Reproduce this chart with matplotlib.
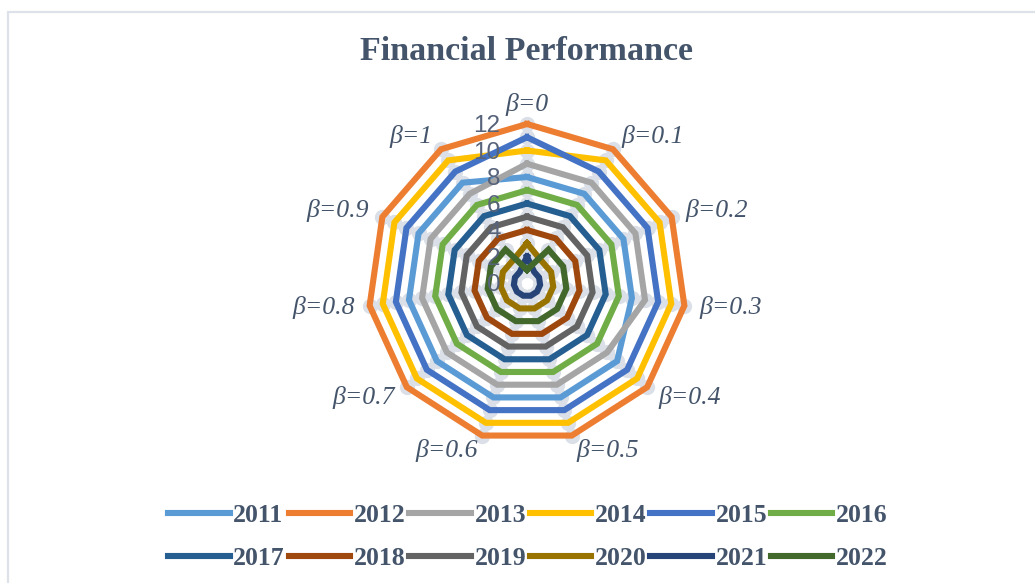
import numpy as np
import matplotlib
matplotlib.use("Agg")
import matplotlib.pyplot as plt
from matplotlib.patches import Rectangle

# categories and series (ranks)
categories = ["β=0", "β=0.1", "β=0.2", "β=0.3", "β=0.4", "β=0.5",
              "β=0.6", "β=0.7", "β=0.8", "β=0.9", "β=1"]
years = ["2011", "2012", "2013", "2014", "2015", "2016",
         "2017", "2018", "2019", "2020", "2021", "2022"]
v2011 = [8, 8, 8, 8, 9, 9, 9, 9, 9, 9, 9]
v2012 = [12, 12, 12, 12, 12, 12, 12, 12, 12, 12, 12]
v2013 = [9, 9, 9, 9, 8, 8, 8, 8, 8, 8, 8]
v2014 = [10, 11, 11, 11, 11, 11, 11, 11, 11, 11, 11]
v2015 = [11, 10, 10, 10, 10, 10, 10, 10, 10, 10, 10]
v2016 = [7, 7, 7, 7, 7, 7, 7, 7, 7, 7, 7]
v2017 = [6, 6, 6, 6, 6, 6, 6, 6, 6, 6, 6]
v2018 = [4, 4, 4, 4, 4, 4, 4, 4, 4, 4, 4]
v2019 = [5, 5, 5, 5, 5, 5, 5, 5, 5, 5, 5]
v2020 = [3, 2, 2, 2, 2, 2, 2, 2, 2, 2, 2]
v2021 = [2, 1, 1, 1, 1, 1, 1, 1, 1, 1, 1]
v2022 = [1, 3, 3, 3, 3, 3, 3, 3, 3, 3, 3]
tick_vals = [0, 2, 4, 6, 8, 10, 12]

series = [v2011, v2012, v2013, v2014, v2015, v2016,
          v2017, v2018, v2019, v2020, v2021, v2022]
colors = ["#5B9BD5", "#ED7D31", "#A5A5A5", "#FFC000", "#4472C4", "#70AD47",
          "#255E91", "#9E480E", "#636363", "#997300", "#264478", "#43682B"]
text_col = "#44546A"

fig = plt.figure(figsize=(10.35, 5.83), dpi=100)
fig.patches.append(Rectangle((8 / 1035, -0.1), 1.2, (583 - 12) / 583 + 0.1,
                             transform=fig.transFigure, fill=False,
                             edgecolor="#dde2ea", linewidth=1.6))

ax = fig.add_axes([368 / 1035, 141 / 583, 318 / 1035, 318 / 583], polar=True)
ax.set_theta_zero_location("N")
ax.set_theta_direction(-1)
ax.set_ylim(0, 12)
ax.grid(False)
ax.spines["polar"].set_visible(False)
ax.set_xticks([])
ax.set_yticks([])
ax.patch.set_alpha(0)

n = len(categories)
theta = np.arange(n) * 2 * np.pi / n
theta_c = np.append(theta, theta[0])

# light marker dots behind the lines
for vals in series:
    ax.plot(theta, vals, linestyle="none", marker="o", markersize=10,
            color="#dbe0e8", zorder=1, clip_on=False)

handles = []
for vals, col, yr in zip(series, colors, years):
    h, = ax.plot(theta_c, vals + vals[:1], color=col, linewidth=4.4,
                 label=yr, zorder=2, clip_on=False, solid_joinstyle="miter")
    handles.append(h)

# radial axis labels
for v in tick_vals:
    ax.annotate(str(v), xy=(0, v), xytext=(-19, -1.5), textcoords="offset points",
                ha="right", va="center", fontsize=17.5, color="#56637a",
                family="Liberation Sans", zorder=3)

# category labels
for t, lab in zip(theta, categories):
    s, c = np.sin(t), np.cos(t)
    ha = "left" if s > 0.1 else ("right" if s < -0.1 else "center")
    if c > 0.95:
        ax.text(t, 12.6, lab, ha=ha, va="bottom", fontsize=18.5, style="italic",
                family="Liberation Serif", color=text_col)
    else:
        ax.text(t, 13.15, lab, ha=ha, va="center", fontsize=18.5, style="italic",
                family="Liberation Serif", color=text_col)

fig.text(527 / 1035, 1 - 52 / 583, "Financial Performance", ha="center",
         va="center", fontsize=24.5, fontweight="bold",
         family="Liberation Serif", color=text_col)

# legend fills column by column, so interleave to get rows 2011-2016 / 2017-2022
order = [i + 6 * r for i in range(6) for r in range(2)]
leg = fig.legend([handles[i] for i in order], [years[i] for i in order],
                 loc="center", bbox_to_anchor=(528 / 1035, 1 - 537 / 583),
                 ncol=6, frameon=False,
                 prop={"family": "Liberation Serif", "weight": "bold", "size": 18.5},
                 labelcolor=text_col, handlelength=2.4, handletextpad=0.14,
                 columnspacing=0.14, labelspacing=0.78)

fig.savefig("out.png", dpi=100)
